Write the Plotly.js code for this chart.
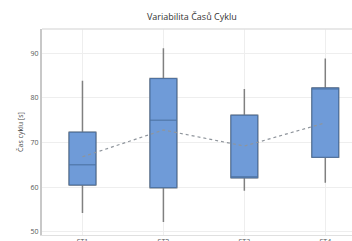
<!DOCTYPE html>
<html>
<head>
<meta charset="utf-8">
<script src="https://cdn.plot.ly/plotly-3.0.1.min.js"></script>
<style>html,body{margin:0;padding:0;background:#fff;}#chart{width:352px;height:241px;}</style>
</head>
<body>
<div id="chart"></div>
<script>
const categories = ["ST1", "ST2", "ST3", "ST4"];
const lowerWhisker = [54.2, 52.2, 59.2, 61.0];
const q1Values = [60.5, 59.9, 62.1, 66.7];
const medianValues = [65.0, 75.0, 62.1, 82.2];
const q3Values = [72.3, 84.3, 76.1, 82.2];
const upperWhisker = [83.8, 91.1, 82.0, 88.8];
const meanValues = [66.8, 72.8, 69.2, 74.4];

const whiskerTrace = {
  type: 'box', x: categories,
  q1: q1Values, median: medianValues, q3: q3Values,
  lowerfence: lowerWhisker, upperfence: upperWhisker,
  width: 0.33, whiskerwidth: 0,
  fillcolor: '#6f9bd8', line: {color: '#808080', width: 1.5},
  hoverinfo: 'skip', showlegend: false
};
const boxTrace = {
  type: 'box', x: categories,
  q1: q1Values, median: medianValues, q3: q3Values,
  lowerfence: q1Values, upperfence: q3Values,
  width: 0.33, whiskerwidth: 0,
  fillcolor: '#6f9bd8', line: {color: '#4a6f9f', width: 1},
  showlegend: false
};
const meanTrace = {
  type: 'scatter', mode: 'lines', x: categories, y: meanValues,
  line: {color: '#8f959c', width: 1.2, dash: 'dot'},
  showlegend: false
};

Plotly.newPlot('chart', [whiskerTrace, boxTrace, meanTrace], {
  width: 352, height: 241,
  margin: {l: 42, r: 0, t: 29, b: 6},
  paper_bgcolor: '#fff', plot_bgcolor: '#fff',
  boxmode: 'overlay',
  title: {text: 'Variabilita Časů Cyklu', font: {family: 'Open Sans, sans-serif', size: 9, color: '#333'},
    x: 0.545, xanchor: 'center', y: 0.93, yanchor: 'middle', xref: 'container', yref: 'container'},
  xaxis: {type: 'category', range: [-0.5, 3.33], showgrid: true, gridcolor: '#eeeeee', gridwidth: 1,
    showline: true, linecolor: '#e0e0e0', mirror: false, ticks: '', zeroline: false,
    tickfont: {family: 'Open Sans, sans-serif', size: 7, color: '#555'}},
  yaxis: {range: [49.3, 95.4], tickvals: [50, 60, 70, 80, 90], showgrid: true, gridcolor: '#eeeeee', gridwidth: 1,
    showline: true, linecolor: '#c8c8c8', linewidth: 2, ticks: '', zeroline: false,
    tickfont: {family: 'Open Sans, sans-serif', size: 7, color: '#555'},
    title: {text: 'Čas cyklu [s]', font: {family: 'Open Sans, sans-serif', size: 7, color: '#444'}, standoff: 6}},
  shapes: [{type: 'line', xref: 'paper', yref: 'paper', x0: 0, x1: 1, y0: 1, y1: 1, line: {color: '#e0e0e0', width: 1.5}}],
  font: {family: 'Open Sans, sans-serif'}
}, {displayModeBar: false, staticPlot: true});
</script>
</body>
</html>
